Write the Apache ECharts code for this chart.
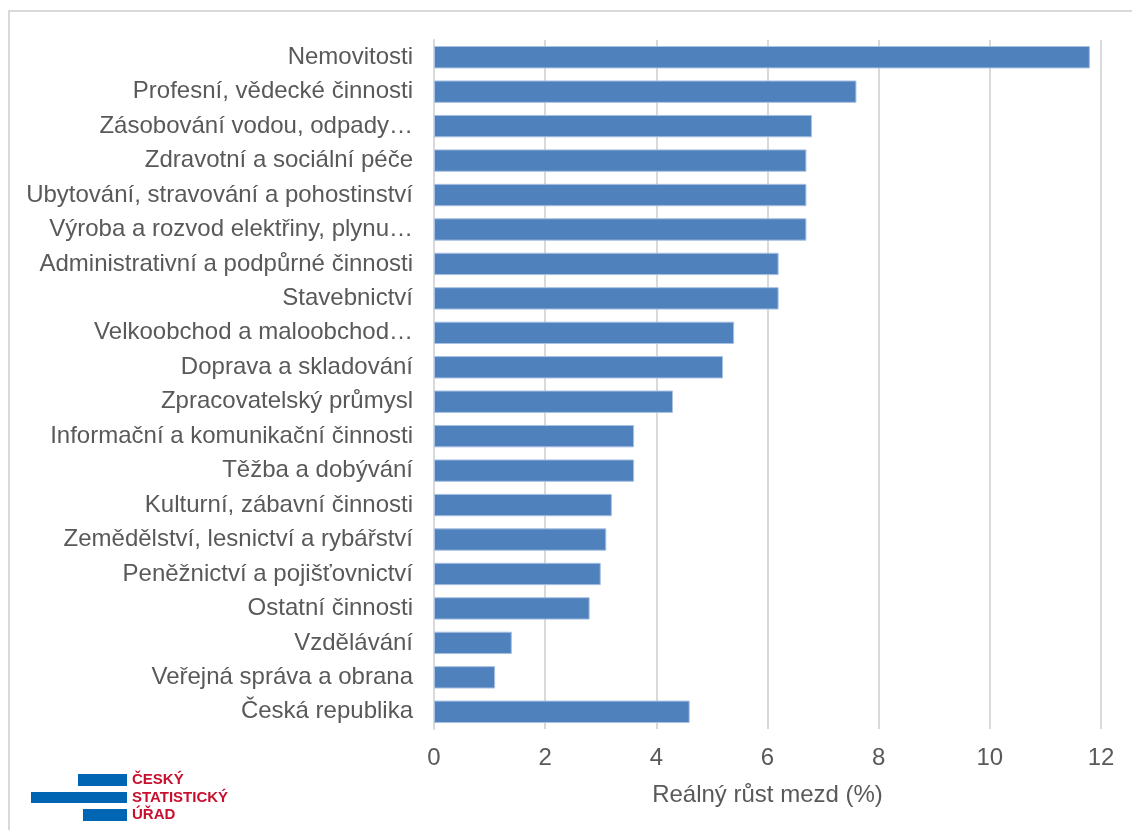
<!DOCTYPE html>
<html><head><meta charset="utf-8">
<script src="https://cdn.jsdelivr.net/npm/echarts@6/dist/echarts.min.js"></script>
<style>html,body{margin:0;padding:0;background:#fff}#c{width:1132px;height:830px}</style>
</head><body><div id="c"></div>
<script>
const categories = [
  "Nemovitosti",
  "Profesní, vědecké činnosti",
  "Zásobování vodou, odpady…",
  "Zdravotní a sociální péče",
  "Ubytování, stravování a pohostinství",
  "Výroba a rozvod elektřiny, plynu…",
  "Administrativní a podpůrné činnosti",
  "Stavebnictví",
  "Velkoobchod a maloobchod…",
  "Doprava a skladování",
  "Zpracovatelský průmysl",
  "Informační a komunikační činnosti",
  "Těžba a dobývání",
  "Kulturní, zábavní činnosti",
  "Zemědělství, lesnictví a rybářství",
  "Peněžnictví a pojišťovnictví",
  "Ostatní činnosti",
  "Vzdělávání",
  "Veřejná správa a obrana",
  "Česká republika"
];
const values = [11.8, 7.6, 6.8, 6.7, 6.7, 6.7, 6.2, 6.2, 5.4, 5.2, 4.3, 3.6, 3.6, 3.2, 3.1, 3.0, 2.8, 1.4, 1.1, 4.6];
const xTicks = [0, 2, 4, 6, 8, 10, 12];
const xAxisName = "Reálný růst mezd (%)";
const logoLines = ["ČESKÝ", "STATISTICKÝ", "ÚŘAD"];

const chart = echarts.init(document.getElementById('c'), null, {renderer: 'canvas'});
chart.setOption({
  animation: false,
  textStyle: {fontFamily: 'Liberation Sans, Arial, sans-serif'},
  grid: {left: 434, right: 31, top: 40, bottom: 101, containLabel: false},
  xAxis: {
    type: 'value', min: xTicks[0], max: xTicks[xTicks.length - 1], interval: 2,
    name: xAxisName, nameLocation: 'middle', nameGap: 54,
    nameTextStyle: {fontSize: 24, color: '#595959'},
    axisLine: {show: false}, axisTick: {show: false},
    axisLabel: {fontSize: 24, color: '#595959', margin: 17},
    splitLine: {show: true, lineStyle: {color: '#d9d9d9', width: 2}}
  },
  yAxis: {
    type: 'category', data: categories, inverse: true,
    axisLine: {show: true, lineStyle: {color: '#d9d9d9', width: 2}},
    axisTick: {show: false},
    axisLabel: {fontSize: 24, color: '#595959', margin: 21}
  },
  series: [{
    type: 'bar', data: values, barWidth: '65%',
    itemStyle: {color: '#4f81bd', borderColor: '#a9c1e2', borderWidth: 1}
  }],
  graphic: [
    {type: 'rect', shape: {x: 9, y: 11, width: 1140, height: 840}, style: {fill: 'none', stroke: '#d9d9d9', lineWidth: 2}, silent: true},
    {type: 'rect', shape: {x: 78, y: 774, width: 49, height: 12}, style: {fill: '#0066b3'}},
    {type: 'rect', shape: {x: 31, y: 792, width: 96, height: 11}, style: {fill: '#0066b3'}},
    {type: 'rect', shape: {x: 83, y: 809, width: 44, height: 12}, style: {fill: '#0066b3'}},
    {type: 'text', x: 132, y: 780, style: {text: logoLines[0], fill: '#c8102e', font: 'bold 15px Liberation Sans, Arial, sans-serif', textVerticalAlign: 'middle'}},
    {type: 'text', x: 132, y: 798, style: {text: logoLines[1], fill: '#c8102e', font: 'bold 15px Liberation Sans, Arial, sans-serif', textVerticalAlign: 'middle'}},
    {type: 'text', x: 132, y: 815, style: {text: logoLines[2], fill: '#c8102e', font: 'bold 15px Liberation Sans, Arial, sans-serif', textVerticalAlign: 'middle'}}
  ]
});
</script></body></html>
